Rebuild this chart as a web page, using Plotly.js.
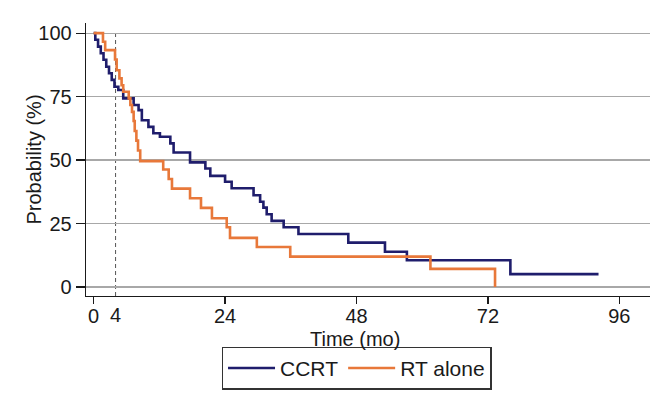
<!DOCTYPE html>
<html>
<head>
<meta charset="utf-8">
<script src="https://cdn.plot.ly/plotly-3.0.1.min.js"></script>
<style>html,body{margin:0;padding:0;background:#fff;}#chart{width:668px;height:400px;}</style>
</head>
<body>
<div id="chart"></div>
<script>
// Kaplan-Meier style step data
var ccrtTime = [0, 0.3, 0.8, 1.3, 1.8, 2.3, 2.8, 3.3, 3.8, 4.5, 5.4, 7.3, 8.2, 8.8, 10.0, 10.9, 12.1, 14.0, 14.6, 17.6, 20.4, 21.3, 24.0, 25.2, 29.2, 30.4, 31.0, 31.6, 32.5, 34.7, 37.4, 46.5, 53.2, 57.2, 76.1, 92.2];
var ccrtSurv = [100, 97.4, 94.7, 92.1, 89.5, 86.8, 84.2, 81.6, 78.9, 77.6, 74.3, 71.7, 69.7, 65.7, 63.1, 60.6, 59.2, 56.6, 53.0, 49.1, 46.7, 43.8, 41.5, 38.9, 36.2, 33.6, 31.3, 28.7, 26.1, 23.6, 20.9, 17.5, 13.9, 10.6, 5.1, 5.1];

var rtTime = [0, 1.7, 2.1, 3.9, 4.2, 4.7, 5.1, 5.4, 6.4, 6.7, 7.0, 7.3, 7.5, 7.8, 8.1, 8.5, 12.7, 13.7, 14.3, 17.6, 19.6, 21.6, 24.3, 24.9, 29.8, 35.9, 61.5, 73.3];
var rtSurv = [100, 96.6, 93.3, 89.6, 85.4, 82.2, 79.5, 76.9, 74.3, 71.7, 69.0, 65.4, 61.5, 57.7, 53.8, 49.6, 46.3, 42.6, 38.8, 35.0, 31.2, 27.1, 23.6, 19.4, 15.8, 12.0, 7.2, 0];

var seriesNames = ['CCRT', 'RT alone'];
var xTicks = [0, 24, 48, 72, 96];
var yTicks = [0, 25, 50, 75, 100];
var landmark = 4;

var FONT = 'Arial, "Liberation Sans", sans-serif';
var navy = '#1f1d6c';
var orange = '#e8783a';

var traces = [
  {x: ccrtTime, y: ccrtSurv, name: seriesNames[0], type: 'scatter', mode: 'lines',
   line: {shape: 'hv', color: navy, width: 2.6}},
  {x: rtTime, y: rtSurv, name: seriesNames[1], type: 'scatter', mode: 'lines',
   line: {shape: 'hv', color: orange, width: 2.6}}
];

var layout = {
  width: 668, height: 400,
  margin: {l: 86, r: 18, t: 23, b: 104, autoexpand: false},
  paper_bgcolor: '#ffffff', plot_bgcolor: '#ffffff',
  font: {family: FONT, size: 20, color: '#1a1a1a'},
  showlegend: true,
  legend: {orientation: 'h', x: 0.48, xanchor: 'center', y: -0.185, yanchor: 'top',
           bordercolor: '#333333', borderwidth: 1.3, font: {family: FONT, size: 21, color: '#1a1a1a'},
           itemwidth: 47, tracegroupgap: 0},
  xaxis: {range: [-1.4, 101.6], tickvals: xTicks, ticktext: xTicks.map(String),
          ticks: 'outside', ticklen: 7, tickwidth: 1.3, tickcolor: '#1a1a1a',
          ticklabelstandoff: -5,
          showline: true, linecolor: '#1a1a1a', linewidth: 1.3,
          showgrid: false, zeroline: false, automargin: false,
          tickfont: {family: FONT, size: 20, color: '#1a1a1a'}},
  yaxis: {range: [-3.5, 104], tickvals: yTicks, ticktext: yTicks.map(String),
          ticks: 'outside', ticklen: 9, tickwidth: 1.3, tickcolor: '#1a1a1a',
          showline: true, linecolor: '#1a1a1a', linewidth: 1.3, automargin: false,
          showgrid: true, gridcolor: '#a8a8a8', gridwidth: 1.3, zeroline: false,
          tickfont: {family: FONT, size: 20, color: '#1a1a1a'}},
  shapes: [
    {type: 'line', xref: 'x', yref: 'y', x0: landmark, x1: landmark, y0: -3.5, y1: 100,
     line: {color: '#555555', width: 1, dash: '4px,3px'}, layer: 'below'}
  ],
  annotations: [
    {text: String(landmark), xref: 'x', x: landmark, yref: 'paper', y: -0.0696,
     xanchor: 'center', yanchor: 'middle', showarrow: false,
     font: {family: FONT, size: 20, color: '#1a1a1a'}},
    {text: 'Time (mo)', xref: 'paper', x: 0.477, yref: 'paper', y: -0.1575,
     xanchor: 'center', yanchor: 'middle', showarrow: false,
     font: {family: FONT, size: 20, color: '#1a1a1a'}},
    {text: 'Probability (%)', xref: 'paper', x: -0.0922, yref: 'paper', y: 0.5,
     xanchor: 'center', yanchor: 'middle', textangle: -90, showarrow: false,
     font: {family: FONT, size: 20, color: '#1a1a1a'}}
  ]
};

Plotly.newPlot('chart', traces, layout, {displayModeBar: false, staticPlot: true});
</script>
</body>
</html>
